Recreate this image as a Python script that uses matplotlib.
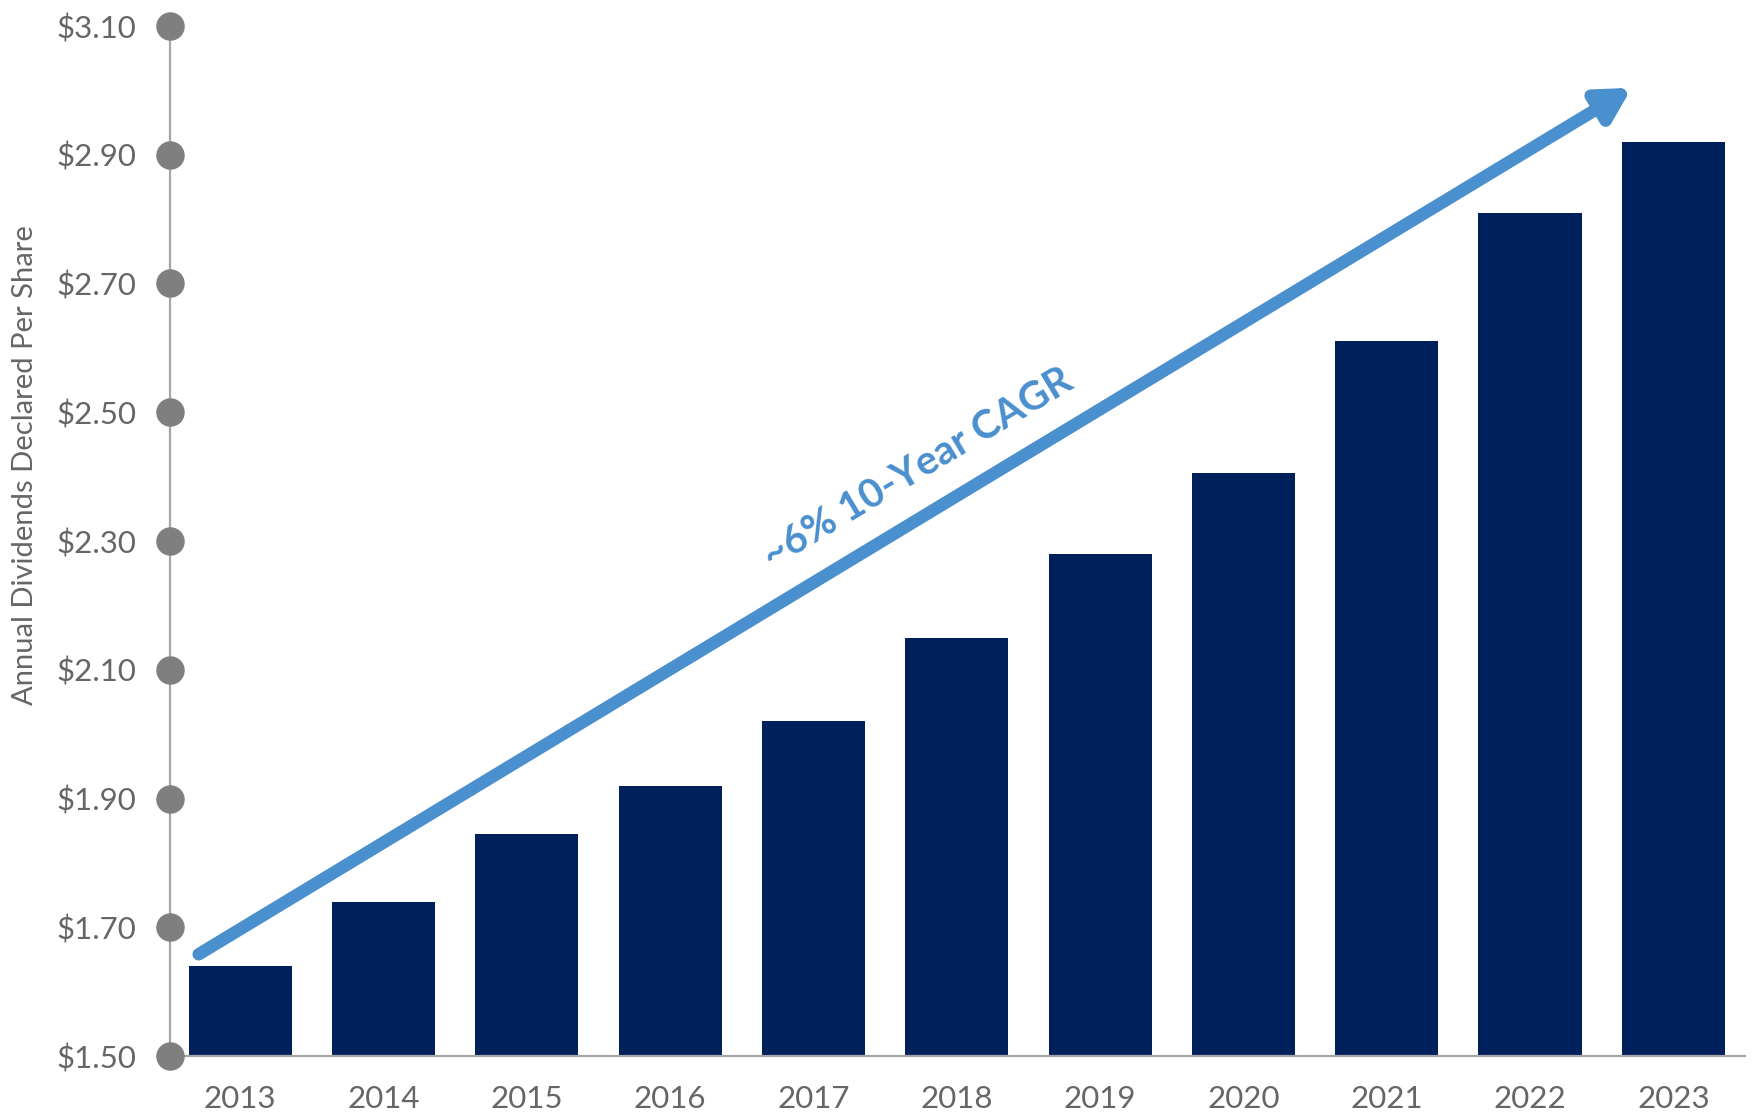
import matplotlib.pyplot as plt
import numpy as np

plt.rcParams['font.family'] = ['Lato', 'DejaVu Sans']

# data
years = ['2013', '2014', '2015', '2016', '2017', '2018', '2019', '2020', '2021', '2022', '2023']
dividends = [1.64, 1.74, 1.845, 1.92, 2.02, 2.15, 2.28, 2.405, 2.61, 2.81, 2.92]
y_ticks = [1.50, 1.70, 1.90, 2.10, 2.30, 2.50, 2.70, 2.90, 3.10]
y_tick_labels = ['$%.2f' % v for v in y_ticks]

cagr_label = '~6% 10-Year CAGR'
arrow_start = (-0.29, 1.658)
arrow_end = (9.71, 3.004)
label_pos = (4.73, 2.413)

bar_color = '#00205C'
arrow_color = '#4A8FCE'
gray_text = '#666666'

fig = plt.figure(figsize=(17.53, 11.13), dpi=100)
ax = fig.add_axes([170 / 1753, 57 / 1113, (1745 - 170) / 1753, (1056 - 26) / 1113])

x = np.arange(len(years))
ax.bar(x, dividends, width=0.72, color=bar_color, bottom=0, zorder=2)

ax.set_xlim(-0.49, 10.5)
ax.set_ylim(1.50, 3.10)

# spines
for s in ['top', 'right']:
    ax.spines[s].set_visible(False)
ax.spines['left'].set_color('#A6A6A6')
ax.spines['left'].set_linewidth(1.6)
ax.spines['bottom'].set_color('#A6A6A6')
ax.spines['bottom'].set_linewidth(1.6)

# round gray markers on the y axis
ax.scatter([ax.get_xlim()[0]] * len(y_ticks), y_ticks, s=380, color='#7F7F7F',
           zorder=5, clip_on=False)

ax.set_yticks(y_ticks)
ax.set_yticklabels(y_tick_labels)
ax.set_xticks(x)
ax.set_xticklabels(years)
ax.tick_params(axis='y', length=0, pad=24, labelsize=22.5, labelcolor=gray_text)
ax.tick_params(axis='x', length=0, pad=21, labelsize=22.5, labelcolor=gray_text)

fig.text(25 / 1753, 1 - 465 / 1113, 'Annual Dividends Declared Per Share',
         rotation=90, ha='center', va='center', fontsize=21, color=gray_text)

# growth arrow
ax.annotate('', xy=arrow_end, xytext=arrow_start,
            arrowprops=dict(arrowstyle='-|>,head_length=1.9,head_width=1.05',
                            color=arrow_color, lw=9, shrinkA=0, shrinkB=0),
            zorder=4)

ax.text(label_pos[0], label_pos[1], cagr_label, rotation=30.9, rotation_mode='anchor',
        ha='center', va='center', fontsize=29, fontweight='bold', color=arrow_color)

fig.savefig('out.png', dpi=100)
